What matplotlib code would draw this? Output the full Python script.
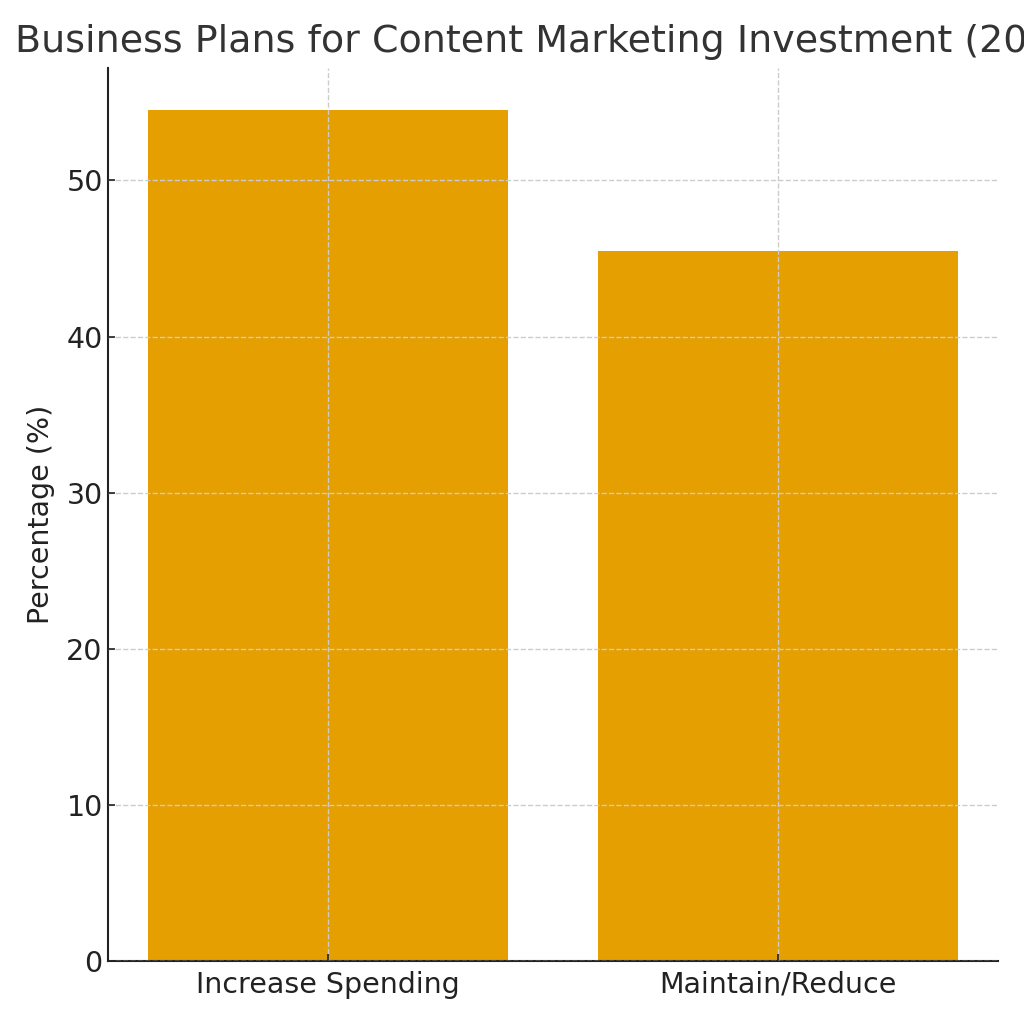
import matplotlib
matplotlib.use('Agg')
import matplotlib.pyplot as plt

categories = ['Increase Spending', 'Maintain/Reduce']
percentages = [54.5, 45.5]
title = 'Business Plans for Content Marketing Investment (2024)'

BAR_COLOR = '#E69F00'

fig = plt.figure(figsize=(10.24, 10.24), dpi=100)
ax = fig.add_axes([0.105, 0.0615, 0.87, 0.8725])

ax.bar(categories, percentages, color=BAR_COLOR, width=0.8, zorder=2)

ax.set_ylabel('Percentage (%)', fontsize=20.5, color='#222222', labelpad=8)
ax.set_title(title, fontsize=27.4, color='#333333', pad=11)
ax.grid(True, linestyle='--', color='#cccccc', linewidth=1, zorder=0)
ax.set_axisbelow(False)

for side in ['top', 'right']:
    ax.spines[side].set_visible(False)
for side in ['left', 'bottom']:
    ax.spines[side].set_linewidth(1.5)
    ax.spines[side].set_color('#222222')

ax.tick_params(direction='in', length=5, width=1.2, labelsize=20.5,
               colors='#222222')
ax.tick_params(axis='x', pad=7)

plt.savefig('out.png', dpi=100)
